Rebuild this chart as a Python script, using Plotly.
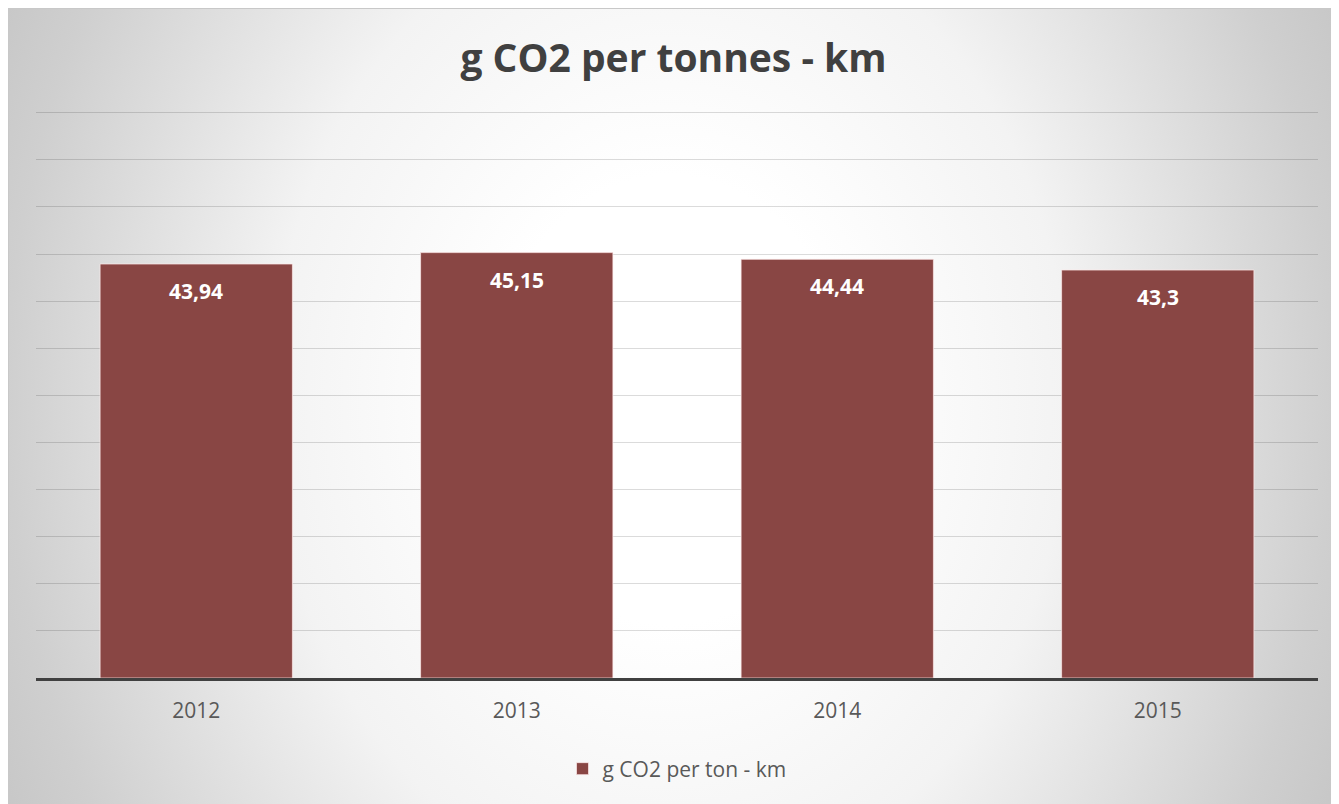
import base64
import plotly.graph_objects as go

# Data
years = ["2012", "2013", "2014", "2015"]
values = [43.94, 45.15, 44.44, 43.3]
series_name = "g CO2 per ton - km"
title_text = "g CO2 per tonnes - km"

labels = [str(v).replace(".", ",") for v in values]

# page has an 8px body margin; figure sized to fit the window
W, H = 1331, 796
L, R, T, B = 28, 21, 100, 126
pw, ph = W - L - R, H - T - B
y_max = 60.5

cx, cy = 662, 392
svg = f'''<svg xmlns="http://www.w3.org/2000/svg" width="{W}" height="{H}" viewBox="0 0 {W} {H}">
<defs><radialGradient id="g" gradientUnits="userSpaceOnUse" cx="{cx}" cy="{cy}" r="780"
gradientTransform="translate({cx},{cy}) scale(1,1.25) translate({-cx},{-cy})">
<stop offset="0" stop-color="#ffffff"/><stop offset="0.23" stop-color="#ffffff"/>
<stop offset="0.51" stop-color="#f3f3f3"/><stop offset="0.85" stop-color="#cfcfcf"/>
<stop offset="1" stop-color="#c3c3c3"/></radialGradient></defs>
<rect x="0.5" y="0.5" width="{W-1}" height="{H+10}" fill="url(#g)" stroke="#c8c8c8" stroke-width="1"/>
</svg>'''
src = "data:image/svg+xml;base64," + base64.b64encode(svg.encode()).decode()

bar_color = "#894644"

fig = go.Figure()
fig.add_trace(go.Bar(
    x=years, y=values, name=series_name,
    marker=dict(color=bar_color, line=dict(color="rgba(255,235,235,0.7)", width=1)),
    showlegend=True,
))

for i, (v, t) in enumerate(zip(values, labels)):
    fig.add_annotation(x=i, y=v, text=f"<b>{t}</b>", showarrow=False,
                       yanchor="middle", yshift=-27,
                       font=dict(family="Open Sans", size=21, color="white"))

fig.update_layout(
    width=W, height=H,
    margin=dict(l=L, r=R, t=T, b=B, pad=0),
    paper_bgcolor="white",
    plot_bgcolor="rgba(0,0,0,0)",
    bargap=0.4,
    font=dict(family="Open Sans", color="#595959"),
    title=dict(text=f"<b>{title_text}</b>", x=0.5, xanchor="center",
               y=1 - 50 / H, yanchor="middle", yref="container",
               font=dict(family="Open Sans", size=39, color="#404040")),
    xaxis=dict(type="category", range=[-0.5, len(years) - 0.5],
               showline=True, linecolor="#404040", linewidth=3,
               ticks="", ticklabelstandoff=12,
               tickfont=dict(size=21, color="#595959"),
               showgrid=False),
    yaxis=dict(range=[0, y_max], dtick=5, showticklabels=False,
               showgrid=True, gridcolor="rgba(0,0,0,0.14)", gridwidth=1,
               zeroline=False, showline=False, ticks=""),
    legend=dict(orientation="h", x=0.5, xanchor="center",
                y=(T + ph - 761) / ph, yanchor="middle",
                itemwidth=30,
                font=dict(size=21, color="#595959"),
                bgcolor="rgba(0,0,0,0)"),
    images=[dict(source=src, xref="paper", yref="paper",
                 x=-L / pw, y=(T + ph) / ph,
                 sizex=W / pw, sizey=H / ph,
                 xanchor="left", yanchor="top", sizing="stretch",
                 layer="below")],
)

fig.write_html("out.html")
